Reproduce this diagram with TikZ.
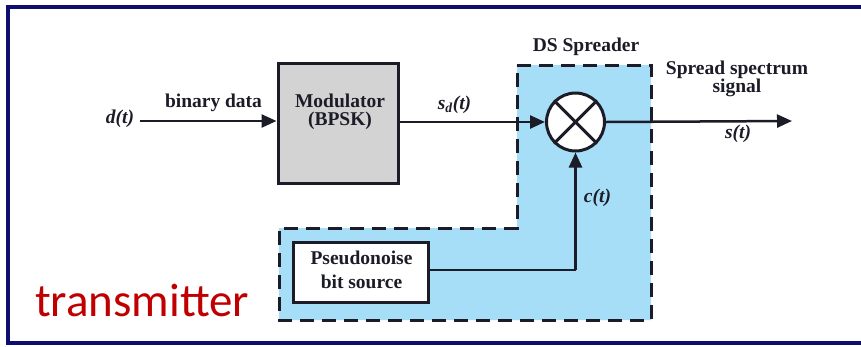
\documentclass[tikz,border=0pt]{standalone}
\usepackage{fontspec}
\setmainfont{Liberation Serif}
\newfontfamily\timesfont{Liberation Serif}
\newfontfamily\calfont{Carlito}
\usetikzlibrary{arrows.meta}
\definecolor{frameblue}{RGB}{14,14,112}
\definecolor{spreadblue}{RGB}{166,222,247}
\definecolor{modgrey}{RGB}{211,211,211}
\definecolor{ink}{RGB}{28,28,40}
\definecolor{tred}{RGB}{192,0,0}
\tikzset{
  lbl/.style={font=\timesfont\fontsize{19.5}{17}\selectfont\bfseries, text=ink, inner sep=0pt},
  mlbl/.style={font=\timesfont\fontsize{19.5}{17}\selectfont\bfseries\itshape, text=ink, inner sep=0pt},
  blockbox/.style={draw=ink, line width=3pt, inner sep=0pt},
  sig/.style={draw=ink, line width=2.5pt, -{Triangle[length=15pt,width=13pt]}},
  plainsig/.style={draw=ink, line width=2.5pt},
}
\begin{document}
\begin{tikzpicture}[x=1pt,y=-1pt]
\useasboundingbox (0,0) rectangle (861,346);
\clip (0,0) rectangle (861,346);
\fill[white] (0,0) rectangle (861,346);
% outer frame
\draw[frameblue, line width=4pt] (8,6.5) rectangle (880,342.5);
% DS spreader region
\filldraw[fill=spreadblue, draw=ink, line width=3pt, dash pattern=on 14pt off 8pt]
  (517,65) -- (651,65) -- (651,320) -- (279,320) -- (279,228) -- (517,228) -- cycle;
\node[lbl] (dslabel) at (586,47) {DS Spreader};
% blocks
\node[blockbox, fill=modgrey, minimum width=120pt, minimum height=120pt] (mod) at (338,123) {};
\node[lbl, align=center, font=\timesfont\fontsize{19.5}{18}\selectfont\bfseries] (modtxt) at (340,112) {Modulator\\(BPSK)};
\node[blockbox, fill=white, minimum width=135pt, minimum height=60pt] (pn) at (360.5,272) {};
\node[lbl, align=center, font=\timesfont\fontsize{19.5}{24}\selectfont\bfseries] (pntxt) at (361.5,270) {Pseudonoise\\bit source};
\node[circle, draw=ink, fill=white, line width=3pt, minimum size=58pt, inner sep=0pt] (mult) at (575.5,122) {};
\draw[ink, line width=3pt] (mult.north west) -- (mult.south east);
\draw[ink, line width=3pt] (mult.north east) -- (mult.south west);
% coordinates
\coordinate (din) at (140,121);
\coordinate (sout) at (792,121);
\coordinate (pncorner) at (575.5,270);
% connectors
\draw[sig] (din) -- (mod.west |- din);
\draw[sig] (mod.east |- mult.west) -- (mult.west);
\draw[plainsig] (pn.east |- pncorner) -- (pncorner);
\draw[sig] (pncorner) -- (mult.south);
\draw[sig] (mult.east) -- (sout);
% labels
\node[mlbl] (dlbl) at (120,119) {d(t)};
\node[lbl] (binlbl) at (213.5,103) {binary data};
\node[mlbl] (sdlbl) at (454.5,105) {s\textsubscript{d}(t)};
\node[mlbl] (clbl) at (597.5,198) {c(t)};
\node[lbl, align=center] (spreadlbl) at (737,79) {Spread spectrum\\signal};
\node[mlbl] (slbl) at (738,134) {s(t)};
\node[font=\calfont\fontsize{47}{47}\selectfont, text=tred, inner sep=0pt, anchor=base west] (tx) at (35,316) {transmitter};
\end{tikzpicture}
\end{document}
